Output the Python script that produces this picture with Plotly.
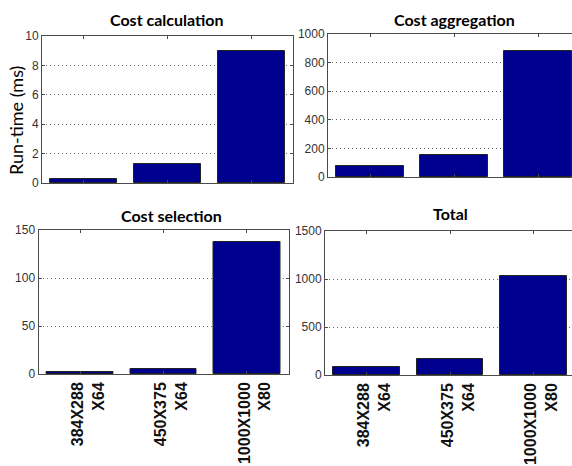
import plotly.graph_objects as go

W, H = 572, 466

# Data
categories = ["384X288<br>X64", "450X375<br>X64", "1000X1000<br>X80"]
cost_calculation = [0.3, 1.3, 9.0]
cost_aggregation = [76, 157, 880]
cost_selection = [1.7, 5.5, 137]
total = [87, 167, 1030]

titles = ["Cost calculation", "Cost aggregation", "Cost selection", "Total"]
series = [cost_calculation, cost_aggregation, cost_selection, total]
y_ticks = [
    [0, 2, 4, 6, 8, 10],
    [0, 200, 400, 600, 800, 1000],
    [0, 50, 100, 150],
    [0, 500, 1000, 1500],
]

# Panel boxes in pixels: left, right, top, bottom
boxes = [
    (42, 293, 36, 183),
    (328, 580, 34, 177),
    (38.5, 288.5, 230, 374),
    (325, 575, 231, 375),
]

BAR = "#00008F"
AXIS = "#4a4a4a"
GRID = "#6a6a6a"
LABEL_SHIFT_PX = 8  # centres the two-line rotated labels on their ticks

fig = go.Figure()
pos = [1, 2, 3]

for i, (vals, ticks, box) in enumerate(zip(series, y_ticks, boxes)):
    n = "" if i == 0 else str(i + 1)
    left, right, top, bottom = box
    vis_right = min(right, W)
    px_per_unit = (right - left) / 3.0
    x_range = [0.5, 0.5 + (vis_right - left) / px_per_unit]
    fig.add_trace(go.Bar(
        x=pos, y=vals, width=0.8,
        marker=dict(color=BAR, line=dict(color="#222222", width=1)),
        xaxis="x" + n, yaxis="y" + n, showlegend=False,
    ))
    cropped = right > W
    fig.layout["xaxis" + n] = dict(
        domain=[left / W, vis_right / W],
        range=x_range,
        anchor="y" + n, automargin=False,
        tickmode="array", tickvals=pos, ticktext=["", "", ""],
        ticks="inside", ticklen=3, tickcolor=AXIS,
        showline=True, linecolor=AXIS, linewidth=1, mirror="ticks",
        showgrid=False, zeroline=False,
    )
    fig.layout["yaxis" + n] = dict(
        domain=[1 - bottom / H, 1 - top / H],
        range=[ticks[0], ticks[-1]],
        anchor="x" + n, automargin=False,
        tickmode="array", tickvals=ticks,
        tickfont=dict(family="Liberation Sans", size=12, color="#333333"),
        ticks="inside", ticklen=3, tickcolor=AXIS,
        showline=True, linecolor=AXIS, linewidth=1,
        mirror=False if cropped else "ticks",
        showgrid=True, gridcolor=GRID, griddash="1px,3px", gridwidth=1,
        zeroline=False,
    )

    # Category labels under the bottom row, on a label-only overlay axis
    if i >= 2:
        ln = str(i + 3)
        shift = LABEL_SHIFT_PX / px_per_unit
        fig.add_trace(go.Scatter(
            x=pos, y=[0, 0, 0], mode="markers", marker=dict(opacity=0),
            hoverinfo="skip", showlegend=False,
            xaxis="x" + ln, yaxis="y" + n,
        ))
        fig.layout["xaxis" + ln] = dict(
            overlaying="x" + n, anchor="y" + n, automargin=False,
            domain=[left / W, vis_right / W],
            range=[x_range[0] - shift, x_range[1] - shift],
            tickmode="array", tickvals=pos, ticktext=categories,
            tickangle=-90,
            tickfont=dict(family="Liberation Sans", size=16, color="#111111", weight="bold"),
            ticklabelstandoff=4, ticks="",
            showline=False, showgrid=False, zeroline=False,
        )

# Panel titles
title_pos = [(167, 19), (454, 19), (171, 215), (450, 214)]
for t, (tx, ty) in zip(titles, title_pos):
    fig.add_annotation(
        text=t, x=tx / W, y=1 - ty / H, xref="paper", yref="paper",
        xanchor="center", yanchor="middle", showarrow=False,
        font=dict(family="Lato", size=16, color="#000000", weight="bold"),
    )

# Shared y-axis label
fig.add_annotation(
    text="Run-time (ms)", x=16 / W, y=1 - 121 / H, xref="paper", yref="paper",
    xanchor="center", yanchor="middle", showarrow=False, textangle=-90,
    font=dict(family="Lato", size=18, color="#000000"),
)

fig.update_layout(
    width=W, height=H,
    margin=dict(l=0, r=0, t=0, b=0),
    paper_bgcolor="white", plot_bgcolor="white",
    bargap=0,
)

fig.write_html("out.html")
